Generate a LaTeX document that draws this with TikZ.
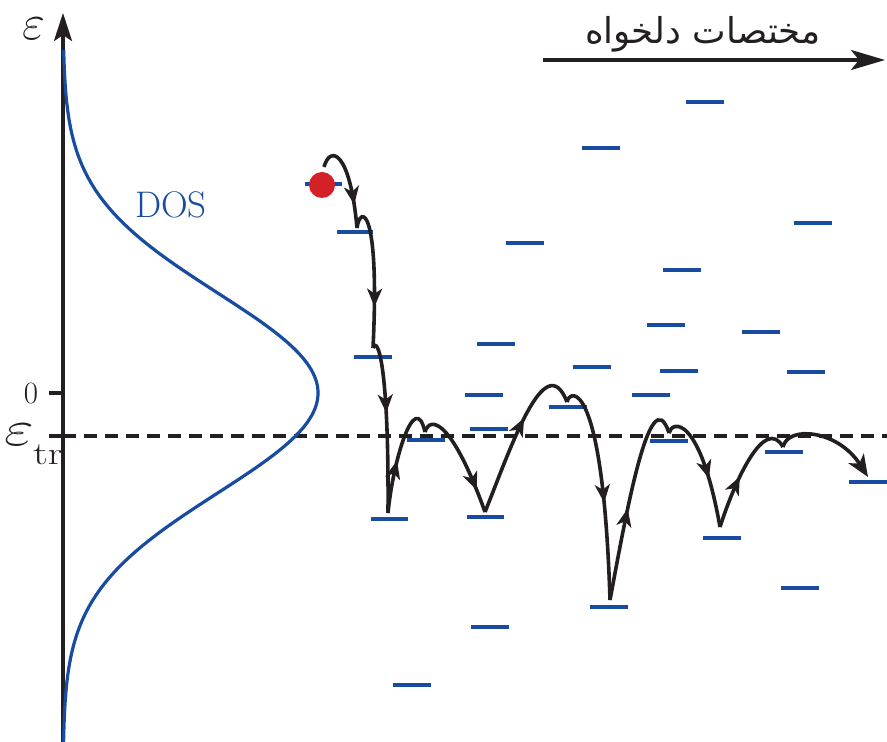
\documentclass[tikz,border=0pt]{standalone}
\usepackage{fontspec}
\newfontfamily\arabicfont[Script=Arabic]{DejaVu Sans}
\TeXXeTstate=1
\usetikzlibrary{arrows.meta,decorations.markings}
\definecolor{lvlblue}{RGB}{24,76,160}
\definecolor{dotred}{RGB}{212,32,39}
\definecolor{ink}{RGB}{35,31,32}
\begin{document}
\begin{tikzpicture}[x=0.5pt,y=-0.5pt,
  lvl/.style={lvlblue, line width=1.6pt},
  hop/.style={ink, line width=1.8pt},
  harrow/.style={postaction={decorate},
    decoration={markings, mark=at position #1 with {\arrow{Stealth[length=9pt,width=7.5pt,inset=2.5pt]}}}},
  axisline/.style={ink, line width=1.75pt},
  lbl/.style={inner sep=0pt, text=ink}
]
\useasboundingbox (0,0) rectangle (887,742);

% axis
\coordinate (axbot) at (63,742);
\coordinate (axtop) at (63,13);
\draw[axisline, -{Stealth[length=14pt,width=9pt,inset=3pt]}] (axbot) -- (axtop);
\coordinate (t0a) at (49,393); \coordinate (t0b) at (63,393);
\coordinate (tta) at (49,436); \coordinate (ttb) at (63,436);
\draw[axisline] (t0a) -- (t0b);
\draw[axisline] (tta) -- (ttb);
\coordinate (dashend) at (887,436);
\draw[axisline, dash pattern=on 6.5pt off 4pt] (ttb) -- (dashend);

% labels
\node[lbl] (epslbl) at (34,29) {\fontsize{24}{28}\selectfont$\varepsilon$};
\node[lbl] (zerolbl) at (31,394) {\fontsize{15.5}{18}\selectfont 0};
\node[lbl, anchor=base west] (etrlbl) at (4,445)
  {\scalebox{1.3}[1]{\fontsize{26}{30}\selectfont$\varepsilon$}\kern-0.5pt\raisebox{-9.5pt}{\scalebox{1.3}[1]{\fontsize{16}{18}\selectfont tr}}};
\node[lbl, text=lvlblue] (doslbl) at (171,205) {\fontsize{18.5}{22}\selectfont DOS};

% DOS curve
\draw[lvlblue, line width=1.6pt] plot[domain=50:742, samples=200, variable=\t]
  ({63+255*exp(-((\t-393)/100)^2/2)}, \t);

% top arrow with Arabic label
\coordinate (ara) at (543,60);
\coordinate (arb) at (885,60);
\draw[axisline, -{Stealth[length=17pt,width=10pt,inset=4pt]}] (ara) -- (arb);
\node[lbl] (arlbl) at (703,34) {\fontsize{17.8}{22}\selectfont\arabicfont\beginR مختصات دلخواه\endR};

% levels
\foreach \a/\b/\y in {305/342/184, 337/373/232, 354/392/357, 686/724/102, 582/620/148,
  794/832/223, 506/544/243, 663/701/270, 647/685/325, 742/780/332, 477/515/344,
  573/611/367, 660/698/371, 787/825/372, 465/503/395, 632/670/395, 549/587/407,
  470/508/429, 407/445/440, 650/688/441, 765/803/452, 849/887/482, 371/408/519,
  467/504/517, 703/741/538, 781/819/588, 590/628/607, 471/509/627, 393/431/685}
  \draw[lvl] (\a,\y) -- (\b,\y);

% carrier
\node[circle, fill=dotred, minimum size=13pt, inner sep=0pt] (carrier) at (322,185) {};

% hop points
\coordinate (p0) at (324,167);
\coordinate (p1) at (357,228);
\coordinate (p2) at (373,348);
\coordinate (p3) at (388,513);
\coordinate (p4) at (425,432);
\coordinate (p5) at (485,512);
\coordinate (p6) at (567,402);
\coordinate (p7) at (610,600);
\coordinate (p8) at (669,433);
\coordinate (p9) at (720,527);
\coordinate (p10) at (783,447);
\coordinate (p11) at (868,477);

\draw[hop, harrow=0.75] (p0) .. controls (330,145) and (350,150) .. (p1);
\draw[hop, harrow=0.72] (p1) .. controls (360,205) and (380,205) .. (p2);
\draw[hop, harrow=0.42] (p2) .. controls (377,336) and (389,360) .. (p3);
\draw[hop, harrow=0.45] (p3) .. controls (393,460) and (415,388) .. (p4);
\draw[hop, harrow=0.8] (p4) .. controls (430,415) and (452,420) .. (p5);
\draw[hop, harrow=0.6] (p5) .. controls (510,450) and (545,345) .. (p6);
\draw[hop, harrow=0.56] (p6) .. controls (570,388) and (603,378) .. (p7);
\draw[hop, harrow=0.45] (p7) .. controls (625,520) and (650,375) .. (p8);
\draw[hop, harrow=0.6] (p8) .. controls (672,420) and (700,415) .. (p9);
\draw[hop, harrow=0.45] (p9) .. controls (735,480) and (765,415) .. (p10);
\draw[hop, -{Stealth[length=11pt,width=9pt,inset=3pt]}] (p10) .. controls (788,425) and (838,430) .. (p11);
\end{tikzpicture}
\end{document}
